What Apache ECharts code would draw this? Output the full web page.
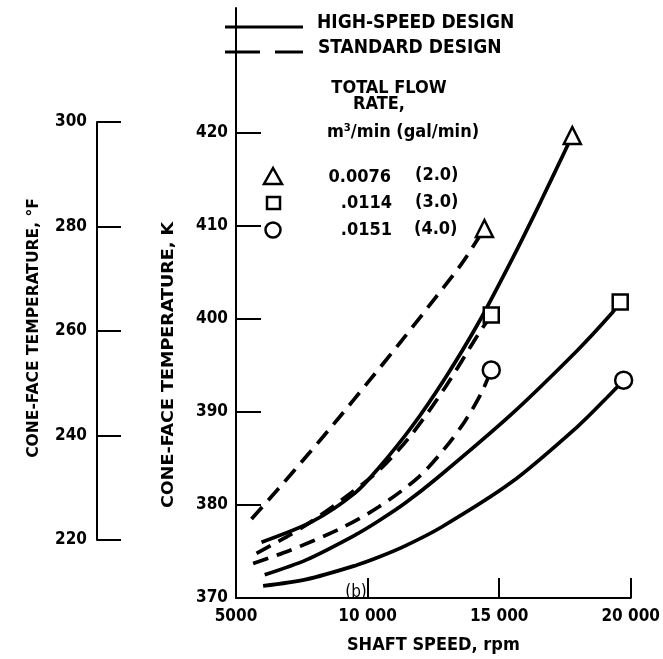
<!DOCTYPE html>
<html><head><meta charset="utf-8">
<script src="https://cdn.jsdelivr.net/npm/echarts@6/dist/echarts.min.js"></script>
<style>html,body{margin:0;padding:0;background:#fff}#c{width:663px;height:659px}</style>
</head><body><div id="c"></div>
<script>
// ---- data (shaft speed rpm, cone-face temperature K) ----
const hsFlow20 = [[5970,376.0],[7890,378.2],[9530,381.3],[10430,384.0],[11680,388.4],[12940,393.6],[14200,399.5],[15580,406.9],[16580,412.6],[17460,417.8],[17780,419.7]];
const hsFlow30 = [[6090,372.5],[7670,374.1],[9550,376.8],[10430,378.3],[11430,380.2],[12690,383.0],[15450,389.7],[17970,396.6],[19220,400.4],[19600,401.8]];
const hsFlow40 = [[6030,371.3],[7670,372.0],[9550,373.5],[10430,374.4],[11430,375.6],[12800,377.6],[15450,382.4],[17970,388.4],[19220,391.9],[19730,393.4]];
const stdFlow20 = [[5590,378.5],[6630,381.8],[7790,385.6],[8920,389.4],[10050,393.3],[11310,397.7],[12560,402.2],[13570,405.9],[14440,409.7]];
const stdFlow30 = [[5780,374.8],[7000,376.7],[7800,378.1],[9000,380.5],[10430,383.7],[11680,387.6],[12940,392.6],[14200,398.3],[14700,400.4]];
const stdFlow40 = [[5650,373.7],[7040,375.1],[8920,377.4],[10430,379.8],[11940,383.0],[12940,386.1],[13700,389.0],[14320,392.0],[14700,394.5]];

const xTickValues = [5000, 10000, 15000, 20000];
const xTickLabels = ['5000', '10 000', '15 000', '20 000'];
const kTickValues = [370, 380, 390, 400, 410, 420];
const fTickValues = [220, 240, 260, 280, 300];
const flowRatesM3 = ['0.0076', '.0114', '.0151'];
const flowRatesGal = ['(2.0)', '(3.0)', '(4.0)'];

const FONT = "'DejaVu Sans Condensed','Liberation Sans Narrow','Roboto Condensed','Liberation Sans',sans-serif";
const DASH = [16, 9];

function lineSeries(data, dashed) {
  return { type: 'line', data: data, smooth: 0.3, symbol: 'none', silent: true,
    lineStyle: { color: '#000', width: 3.7, type: dashed ? DASH : 'solid' }, z: 2 };
}
function endMarker(data, symbol) {
  return { type: 'scatter', data: [data[data.length - 1]], symbol: symbol, symbolSize: symbol === 'rect' ? 15 : 17,
    itemStyle: { color: '#fff', borderColor: '#000', borderWidth: 2.5, opacity: 1 }, z: 5 };
}

const chart = echarts.init(document.getElementById('c'), null, { renderer: 'canvas' });
const txt = (t, x, y, size, opts) => Object.assign({ type: 'text', x: x, y: y,
  style: Object.assign({ text: t, fill: '#000', font: (opts && opts.weight || 'bold') + ' ' + size + 'px ' + FONT,
    textAlign: 'center', textVerticalAlign: 'middle' }, opts && opts.style) }, opts && opts.el);

const tickLabelStyle = { color: '#000', fontFamily: FONT, fontSize: 17, fontWeight: 'bold' };

const option = {
  animation: false,
  backgroundColor: '#fff',
  grid: [
    { left: 236, right: 29, top: 8, bottom: 54 },
    { left: 97, width: 20, top: 122, bottom: 119 }
  ],
  xAxis: [
    { type: 'value', gridIndex: 0, min: 5000, max: 20000,
      axisLine: { lineStyle: { color: '#000', width: 2 } },
      axisTick: { inside: true, length: 20, customValues: [10000, 15000, 20000], lineStyle: { color: '#000', width: 2 } },
      axisLabel: Object.assign({ customValues: xTickValues, margin: 10,
        formatter: v => xTickLabels[xTickValues.indexOf(v)] }, tickLabelStyle),
      splitLine: { show: false },
      name: 'SHAFT SPEED, rpm', nameLocation: 'middle', nameGap: 38,
      nameTextStyle: { color: '#000', fontFamily: FONT, fontSize: 18, fontWeight: 'bold' } },
    { type: 'value', gridIndex: 1, show: false }
  ],
  yAxis: [
    { type: 'value', gridIndex: 0, min: 370, max: 433.4,
      axisLine: { show: true, lineStyle: { color: '#000', width: 2 } },
      axisTick: { show: true, inside: true, length: 25, customValues: [380, 390, 400, 410, 420], lineStyle: { color: '#000', width: 2 } },
      axisLabel: Object.assign({ customValues: kTickValues, margin: 8 }, tickLabelStyle),
      splitLine: { show: false } },
    { type: 'value', gridIndex: 1, min: 220, max: 300, interval: 20,
      axisLine: { show: true, lineStyle: { color: '#000', width: 2 } },
      axisTick: { show: true, inside: true, length: 24, customValues: fTickValues, lineStyle: { color: '#000', width: 2 } },
      axisLabel: Object.assign({ customValues: fTickValues, margin: 10 }, tickLabelStyle),
      splitLine: { show: false } }
  ],
  series: [
    lineSeries(hsFlow20, false), lineSeries(hsFlow30, false), lineSeries(hsFlow40, false),
    lineSeries(stdFlow20, true), lineSeries(stdFlow30, true), lineSeries(stdFlow40, true),
    endMarker(hsFlow20, 'triangle'), endMarker(hsFlow30, 'rect'), endMarker(hsFlow40, 'circle'),
    endMarker(stdFlow20, 'triangle'), endMarker(stdFlow30, 'rect'), endMarker(stdFlow40, 'circle')
  ],
  graphic: [
    { type: 'line', shape: { x1: 225, y1: 27, x2: 303, y2: 27 }, style: { stroke: '#000', lineWidth: 3 } },
    { type: 'line', shape: { x1: 225, y1: 52, x2: 260, y2: 52 }, style: { stroke: '#000', lineWidth: 3 } },
    { type: 'line', shape: { x1: 275, y1: 52, x2: 303, y2: 52 }, style: { stroke: '#000', lineWidth: 3 } },
    txt('HIGH-SPEED DESIGN', 317, 23, 19, { style: { textAlign: 'left' } }),
    txt('STANDARD DESIGN', 318, 48, 19, { style: { textAlign: 'left' } }),
    txt('TOTAL FLOW', 389, 88, 18),
    txt('RATE,', 379, 104, 18),
    txt('m³/min (gal/min)', 403, 132, 18),
    { type: 'polygon', shape: { points: [[273, 168], [264, 184], [282, 184]] }, style: { fill: '#fff', stroke: '#000', lineWidth: 2.5 } },
    { type: 'rect', shape: { x: 267, y: 197, width: 13, height: 12 }, style: { fill: '#fff', stroke: '#000', lineWidth: 2.5 } },
    { type: 'circle', shape: { cx: 273, cy: 230, r: 7.5 }, style: { fill: '#fff', stroke: '#000', lineWidth: 2.5 } },
    txt(flowRatesM3[0], 391, 177, 18, { style: { textAlign: 'right' } }),
    txt(flowRatesM3[1], 392, 203, 18, { style: { textAlign: 'right' } }),
    txt(flowRatesM3[2], 392, 230, 18, { style: { textAlign: 'right' } }),
    txt(flowRatesGal[0], 415, 175, 18, { style: { textAlign: 'left' } }),
    txt(flowRatesGal[1], 415, 202, 18, { style: { textAlign: 'left' } }),
    txt(flowRatesGal[2], 414, 229, 18, { style: { textAlign: 'left' } }),
    txt('(b)', 356, 593, 17, { weight: 'normal' }),
    txt('CONE-FACE TEMPERATURE, K', 169, 365, 16, { el: { rotation: Math.PI / 2, scaleX: 1.22 } }),
    txt('CONE-FACE TEMPERATURE, °F', 34, 328, 16, { el: { rotation: Math.PI / 2, scaleX: 1.08 } })
  ]
};
chart.setOption(option);
</script>
</body></html>
